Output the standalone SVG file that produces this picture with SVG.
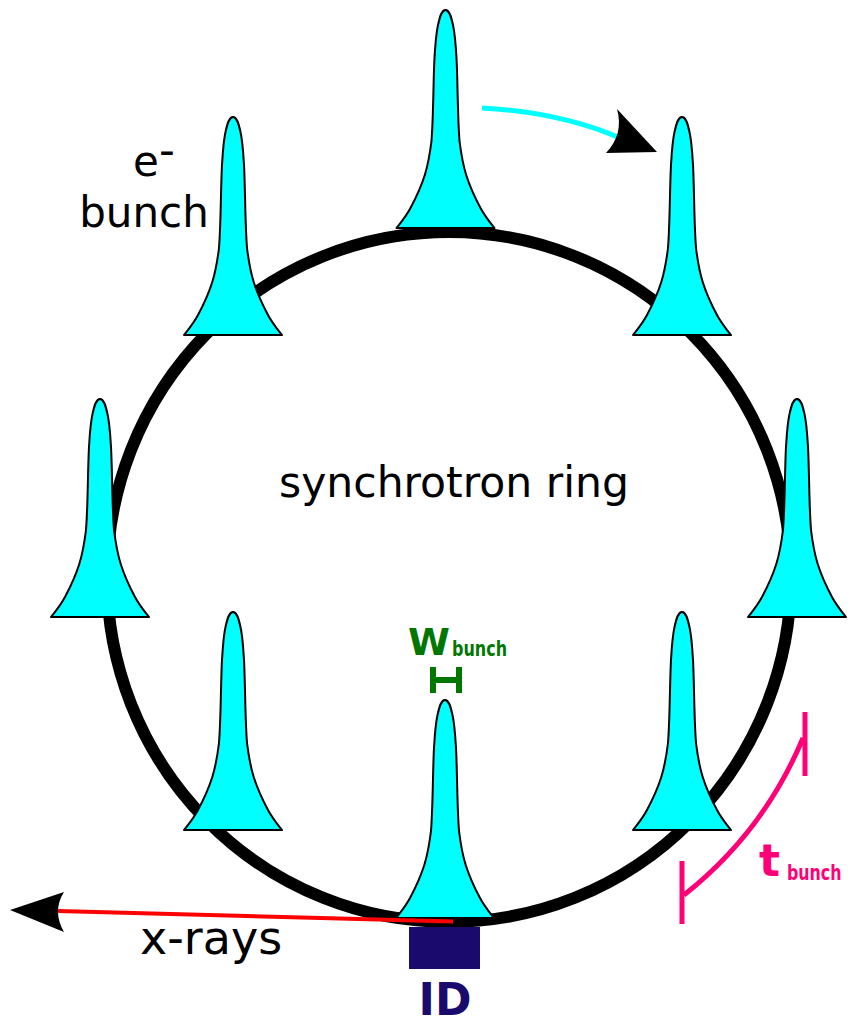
<svg xmlns="http://www.w3.org/2000/svg" xmlns:xlink="http://www.w3.org/1999/xlink" width="848" height="1019" viewBox="0 0 848 1019">
<style>
.bunch{fill:#00ffff;stroke:#000;stroke-width:2;stroke-linejoin:round}
.lbl{font-family:"DejaVu Sans",sans-serif;fill:#000}
.bold{font-family:"DejaVu Sans",sans-serif;font-weight:bold}
</style>
<defs>
<path id="b" d="M -49,0 C -43.5,-7 -39.7,-11.2 -35,-20 C -30.3,-28.8 -24.2,-41.8 -20.7,-53 C -17.2,-64.2 -15.4,-75.8 -14,-87 C -13.2,-98 -12.8,-108 -12.5,-120 C -12,-133.8 -11.8,-156.2 -11,-170 C -10.2,-183.8 -9.3,-195 -7.5,-203 C -5.7,-211 -4,-218 0,-218 C 4,-218 5.7,-211 7.5,-203 C 9.3,-195 10.2,-183.8 11,-170 C 11.8,-156.2 12,-133.8 12.5,-120 C 12.8,-108 13.2,-98 14,-87 C 15.4,-75.8 17.2,-64.2 20.7,-53 C 24.2,-41.8 30.3,-28.8 35,-20 C 39.7,-11.2 43.5,-7 49,0 Z"/>
</defs>
<g id="ring"><ellipse cx="449" cy="577" rx="342" ry="345" fill="none" stroke="#000" stroke-width="12"/></g>
<g id="id-block"><rect x="409" y="927" width="71" height="42" fill="#1b0a6e"/><text class="bold" x="445" y="1015" font-size="44" text-anchor="middle" fill="#1b0a6e">ID</text></g>
<g id="bunches">
<use xlink:href="#b" class="bunch" transform="translate(445.5,228)"/>
<use xlink:href="#b" class="bunch" transform="translate(233,335)"/>
<use xlink:href="#b" class="bunch" transform="translate(682,335)"/>
<use xlink:href="#b" class="bunch" transform="translate(100,617)"/>
<use xlink:href="#b" class="bunch" transform="translate(797,617)"/>
<use xlink:href="#b" class="bunch" transform="translate(233,830)"/>
<use xlink:href="#b" class="bunch" transform="translate(682,830)"/>
<use xlink:href="#b" class="bunch" transform="translate(445,918)"/>
</g>
<g id="connectors">
<path d="M482,108 Q560,112 620,138" fill="none" stroke="#00ffff" stroke-width="5"/>
<path d="M657,152 L606,153 Q624,134 617,109 Z" fill="#000"/>
<line x1="453" y1="921.5" x2="58" y2="911" stroke="#ff0000" stroke-width="4"/>
<path d="M10,910 L64,892 Q52,911 64,932 Z" fill="#000"/>
</g>
<g id="labels">
<text class="lbl" x="133" y="176" font-size="42">e</text>
<text class="lbl" x="159" y="165" font-size="44">-</text>
<text class="lbl" x="144" y="227" font-size="42" text-anchor="middle">bunch</text>
<text class="lbl" x="454" y="497" font-size="42.5" text-anchor="middle">synchrotron ring</text>
<text class="lbl" x="140" y="954" font-size="46">x-rays</text>
</g>
<g id="w-bunch" fill="#007700">
<text class="bold" x="408" y="655" font-size="38">W</text>
<text class="bold" transform="translate(452,656) scale(0.726,1)" font-size="22">bunch</text>
<path d="M433,667 V693 M459,667 V693 M433,680 H459" stroke="#007700" stroke-width="6" fill="none"/>
</g>
<g id="t-bunch" fill="#ff0077">
<path d="M805,712 V776 M682,861 V924 M684,895 A393,393 0 0 0 803,738" stroke="#ff0077" stroke-width="5" fill="none"/>
<text class="bold" x="759" y="876" font-size="44">t</text>
<text class="bold" transform="translate(787,880) scale(0.72,1)" font-size="22">bunch</text>
</g>
</svg>
